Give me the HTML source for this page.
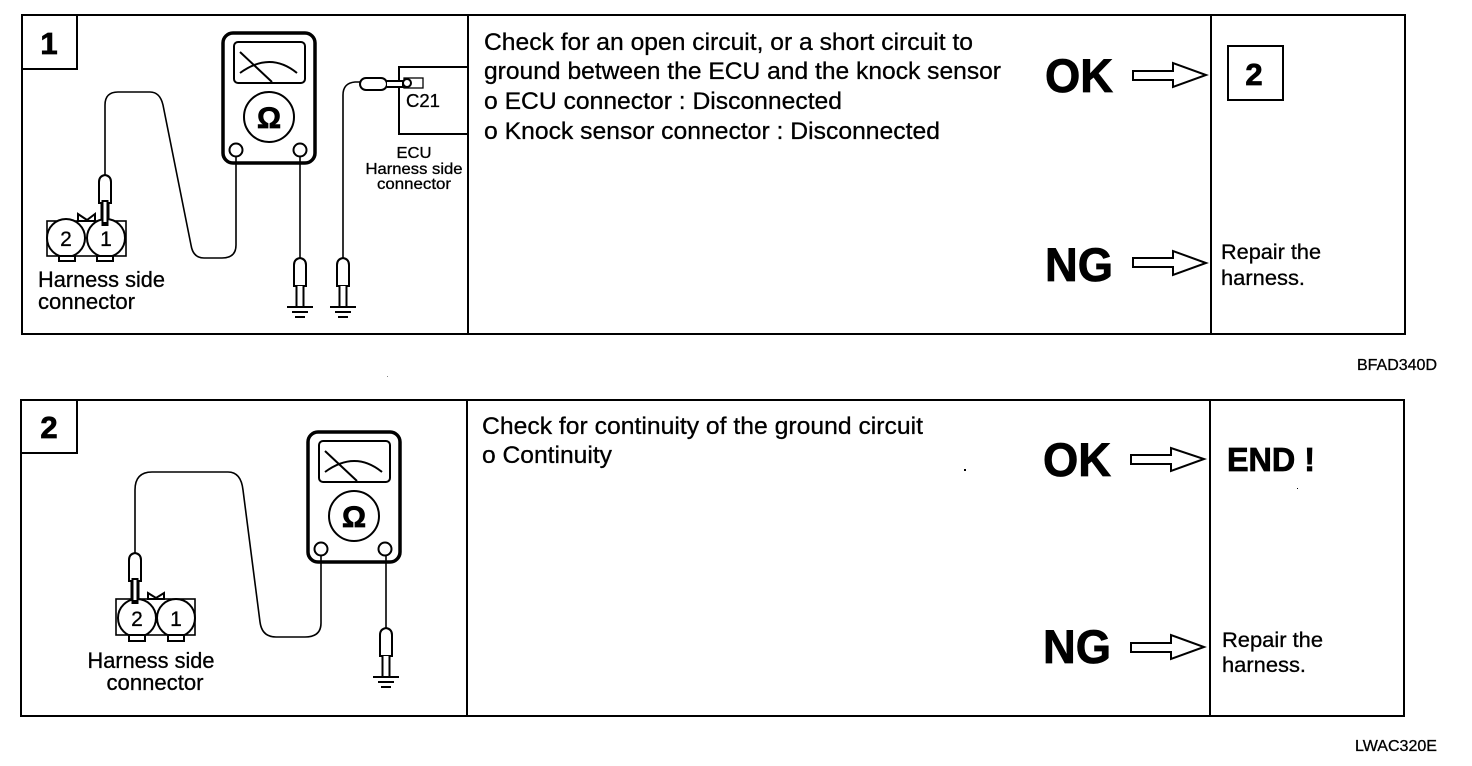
<!DOCTYPE html>
<html><head><meta charset="utf-8"><style>
html,body{margin:0;padding:0;background:#fff;width:1472px;height:766px;overflow:hidden}
svg{display:block}
text{font-family:"Liberation Sans",sans-serif;fill:#000;stroke:#000;stroke-width:.3}
.b{font-weight:bold;stroke-width:.8}
.l{fill:none;stroke:#000;stroke-width:2}
.t{fill:none;stroke:#000;stroke-width:1.600}
.w{fill:#fff;stroke:#000;stroke-width:2}
.h{fill:#fff;stroke:#000;stroke-width:2}
</style></head><body>
<svg width="1472" height="766" viewBox="0 0 1472 766" xmlns="http://www.w3.org/2000/svg">
<defs>
<g id="meter">
<rect x="223" y="33" width="92" height="130" rx="10" fill="#fff" stroke="#000" stroke-width="3.500"/>
<rect x="234" y="42" width="71" height="41" rx="4" class="w"/>
<path d="M240 52L272 82M240 73Q270 51 297 73" class="l" stroke-width="2.200"/>
<circle cx="269" cy="117" r="25" class="w"/>
<text x="269" y="128" text-anchor="middle" class="b" font-size="30">Ω</text>
<circle cx="236" cy="150" r="6.500" class="w"/>
<circle cx="300" cy="150" r="6.500" class="w"/>
</g>
<g id="probe">
<path d="M-6 27V6Q-6 0 0 -1Q6 0 6 6V27Z" class="w"/>
<path d="M-3.500 27V48H3.500V27" class="w"/>
</g>
<g id="gnd">
<path d="M-13 0H13M-8 5H8M-5 10H5" class="l"/>
</g>
</defs>

<!-- Panel 1 -->
<rect x="22" y="15" width="1383" height="319" class="l"/>
<path d="M468 15V334M1211 15V334" class="l"/>
<path d="M77 15V69H22" class="l"/>
<text x="49" y="54" text-anchor="middle" class="b" font-size="31">1</text>

<use href="#meter"/>
<path d="M236 157V245Q236 258 222 258H204Q193 258 191 245L163 105Q160 92 150 92H118Q105 92 105 105V175" class="t"/>
<use href="#probe" x="105" y="176"/>
<rect x="47" y="221" width="79" height="35" class="t"/>
<path d="M78 214L87 220L95 214V221H78Z" class="w" stroke-width="1.300"/>
<circle cx="66" cy="238" r="19" class="w"/>
<circle cx="106" cy="238" r="19" class="w"/>
<path d="M105 200V226" stroke="#000" stroke-width="7" fill="none"/><path d="M105 202V222" stroke="#fff" stroke-width="3" fill="none"/>
<rect x="59" y="256" width="16" height="5" class="w"/><rect x="97" y="256" width="16" height="5" class="w"/>
<text x="66" y="246" text-anchor="middle" font-size="21">2</text>
<text x="106" y="246" text-anchor="middle" font-size="21">1</text>
<text x="38" y="287" font-size="22.500" textLength="127" lengthAdjust="spacingAndGlyphs">Harness side</text>
<text x="38" y="309" font-size="22.500" textLength="97" lengthAdjust="spacingAndGlyphs">connector</text>

<path d="M300 157V258" class="t"/>
<use href="#probe" x="300" y="259"/>
<use href="#gnd" x="300" y="307"/>
<path d="M343 258V95Q343 83 355 82H361" class="t"/>
<use href="#probe" x="343" y="259"/>
<use href="#gnd" x="343" y="307"/>
<path d="M468 67H399V134H468" class="l"/>
<rect x="404" y="78" width="19" height="10" fill="#fff" stroke="#000" stroke-width="1.300"/>
<rect x="360" y="78" width="27" height="12" rx="6" class="w"/>
<path d="M387 81H403V87H387" class="w"/>
<circle cx="407" cy="83" r="4" class="w"/>
<text x="406" y="107" font-size="18" textLength="34" lengthAdjust="spacingAndGlyphs">C21</text>
<text x="414" y="158" text-anchor="middle" font-size="16" textLength="35" lengthAdjust="spacingAndGlyphs">ECU</text>
<text x="414" y="174" text-anchor="middle" font-size="16" textLength="97" lengthAdjust="spacingAndGlyphs">Harness side</text>
<text x="414" y="189" text-anchor="middle" font-size="16" textLength="74" lengthAdjust="spacingAndGlyphs">connector</text>

<text x="484" y="50" font-size="24.500" textLength="489" lengthAdjust="spacingAndGlyphs">Check for an open circuit, or a short circuit to</text>
<text x="484" y="79" font-size="24.500" textLength="517" lengthAdjust="spacingAndGlyphs">ground between the ECU and the knock sensor</text>
<text x="484" y="109" font-size="24.500" textLength="358" lengthAdjust="spacingAndGlyphs">o ECU connector : Disconnected</text>
<text x="484" y="139" font-size="24.500" textLength="456" lengthAdjust="spacingAndGlyphs">o Knock sensor connector : Disconnected</text>

<text x="1045" y="92" class="b" font-size="47" textLength="68" lengthAdjust="spacingAndGlyphs">OK</text>
<text x="1045" y="281" class="b" font-size="47" textLength="68" lengthAdjust="spacingAndGlyphs">NG</text>
<path d="M1133 71H1173V63L1206 75L1173 87V80H1133Z" class="h"/>
<path d="M1133 258H1173V251L1206 263L1173 275V267H1133Z" class="h"/>
<rect x="1228" y="46" width="55" height="54" class="l"/>
<text x="1254" y="85" text-anchor="middle" class="b" font-size="31">2</text>
<text x="1221" y="259" font-size="21.500" textLength="100" lengthAdjust="spacingAndGlyphs">Repair the</text>
<text x="1221" y="285" font-size="21.500" textLength="84" lengthAdjust="spacingAndGlyphs">harness.</text>
<text x="1357" y="370" font-size="16" textLength="80" lengthAdjust="spacingAndGlyphs">BFAD340D</text>

<!-- Panel 2 -->
<rect x="21" y="400" width="1383" height="316" class="l"/>
<path d="M467 400V716M1210 400V716" class="l"/>
<path d="M77 400V453H21" class="l"/>
<text x="49" y="438" text-anchor="middle" class="b" font-size="31">2</text>

<use href="#meter" x="85" y="399"/>
<path d="M321 556V623Q321 637 305 637H276Q262 637 260 622L243 490Q241 472 228 472H152Q135 472 135 490V553" class="t"/>
<use href="#probe" x="135" y="554"/>
<rect x="116" y="599" width="79" height="36" class="t"/>
<path d="M148 593L156 598L164 593V599H148Z" class="w" stroke-width="1.300"/>
<circle cx="137" cy="618" r="19" class="w"/>
<circle cx="176" cy="618" r="19" class="w"/>
<path d="M135 578V604" stroke="#000" stroke-width="7" fill="none"/><path d="M135 580V600" stroke="#fff" stroke-width="3" fill="none"/>
<rect x="129" y="635" width="16" height="6" class="w"/><rect x="168" y="635" width="16" height="6" class="w"/>
<text x="137" y="626" text-anchor="middle" font-size="21">2</text>
<text x="176" y="626" text-anchor="middle" font-size="21">1</text>
<text x="151" y="668" text-anchor="middle" font-size="22.500" textLength="127" lengthAdjust="spacingAndGlyphs">Harness side</text>
<text x="155" y="690" text-anchor="middle" font-size="22.500" textLength="97" lengthAdjust="spacingAndGlyphs">connector</text>

<path d="M386 555V628" class="t"/>
<use href="#probe" x="386" y="629"/>
<use href="#gnd" x="386" y="677"/>

<text x="482" y="434" font-size="24.500" textLength="441" lengthAdjust="spacingAndGlyphs">Check for continuity of the ground circuit</text>
<text x="482" y="463" font-size="24.500" textLength="130" lengthAdjust="spacingAndGlyphs">o Continuity</text>

<text x="1043" y="476" class="b" font-size="47" textLength="68" lengthAdjust="spacingAndGlyphs">OK</text>
<text x="1043" y="663" class="b" font-size="47" textLength="68" lengthAdjust="spacingAndGlyphs">NG</text>
<path d="M1131 455H1171V448L1204 459L1171 471V464H1131Z" class="h"/>
<path d="M1131 643H1171V635L1204 647L1171 659V652H1131Z" class="h"/>
<text x="1227" y="471" class="b" font-size="33" textLength="88" lengthAdjust="spacingAndGlyphs">END !</text>
<text x="1222" y="647" font-size="21.500" textLength="101" lengthAdjust="spacingAndGlyphs">Repair the</text>
<text x="1222" y="672" font-size="21.500" textLength="84" lengthAdjust="spacingAndGlyphs">harness.</text>
<text x="1355" y="751" font-size="16" textLength="82" lengthAdjust="spacingAndGlyphs">LWAC320E</text>

<rect x="964" y="469" width="2" height="2" fill="#000"/>
<rect x="1297" y="488" width="1" height="1" fill="#000"/>
<rect x="387" y="376" width="1" height="1" fill="#888"/>
</svg>
</body></html>
